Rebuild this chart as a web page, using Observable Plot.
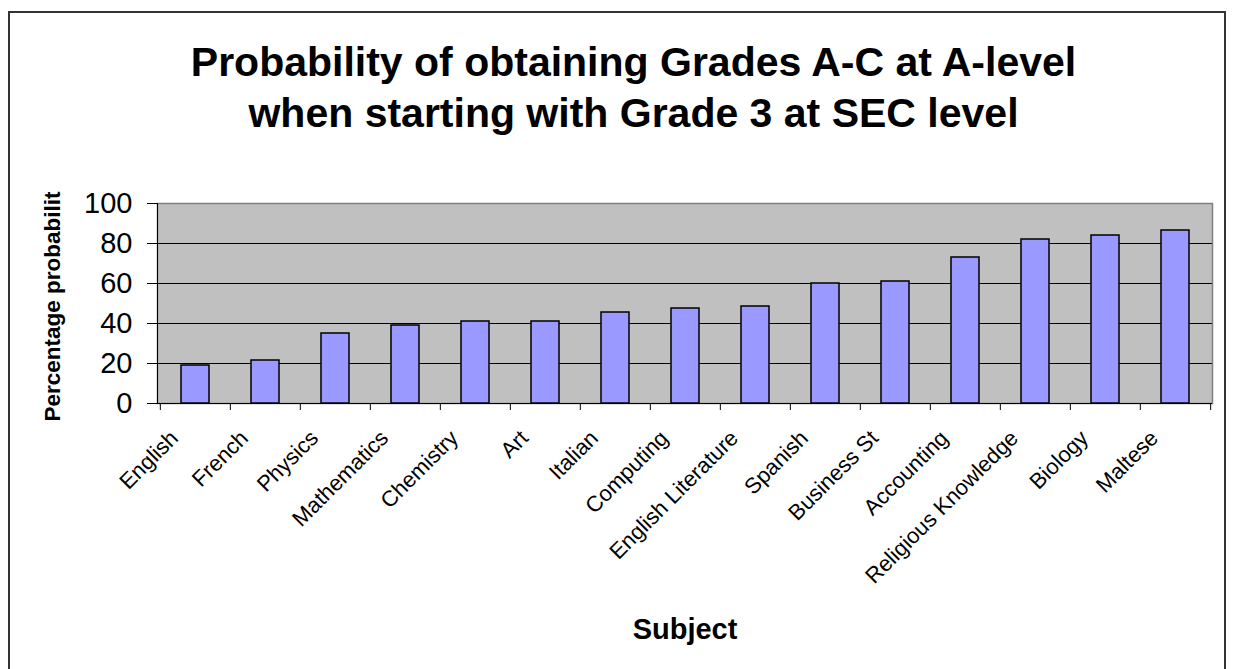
<!DOCTYPE html>
<html>
<head>
<meta charset="utf-8">
<script src="https://cdn.jsdelivr.net/npm/d3@7"></script>
<script src="https://cdn.jsdelivr.net/npm/@observablehq/plot@0.6"></script>
<style>
  html, body { margin: 0; padding: 0; background: #fff; }
  #wrap { position: relative; width: 1234px; height: 669px; overflow: hidden; }
  #border { position: absolute; left: 8px; top: 11px; width: 1218px; height: 700px; border: 2px solid #333; box-sizing: border-box; pointer-events: none; }
  svg { display: block; }
</style>
</head>
<body>
<div id="wrap"><div id="border"></div></div>
<script>
const titleLines = ["Probability of obtaining Grades A-C at A-level", "when starting with Grade 3 at SEC level"];
const yTitle = "Percentage probabilit";
const xTitle = "Subject";
const subjects = ["English","French","Physics","Mathematics","Chemistry","Art","Italian","Computing","English Literature","Spanish","Business St","Accounting","Religious Knowledge","Biology","Maltese"];
const values = [19, 21.5, 35, 39, 41, 41, 45.5, 47.5, 48.5, 60, 61, 73, 82, 84, 86.5];
const yTicks = [0, 20, 40, 60, 80, 100];
const gridValues = [20, 40, 60, 80];

const data = subjects.map((s, i) => ({subject: s, value: values[i]}));

const W = 1234, H = 669;
const mL = 157, mR = 22, mT = 203, mB = 266;
const step = (W - mL - mR) / subjects.length;
const font = "'Liberation Sans', Arial, Helvetica, sans-serif";

const chart = Plot.plot({
  width: W, height: H,
  marginLeft: mL, marginRight: mR, marginTop: mT, marginBottom: mB,
  style: {fontFamily: font, color: "black", background: "white", overflow: "visible"},
  x: {type: "band", domain: subjects, paddingInner: 0.6, paddingOuter: 0.3, axis: null},
  y: {domain: [0, 100], axis: null},
  marks: [
    Plot.frame({fill: "#c0c0c0"}),
    Plot.ruleY(gridValues, {stroke: "black", strokeWidth: 1}),
    Plot.frame({stroke: "#808080", strokeWidth: 1.5}),
    Plot.barY(data, {x: "subject", y: "value", fill: "#9999ff", stroke: "black", strokeWidth: 1.5}),
    Plot.ruleY([0], {stroke: "black", strokeWidth: 1}),
    Plot.frame({anchor: "left", stroke: "black", strokeWidth: 1}),
    Plot.ruleX(subjects, {x: d => d, y1: 0, y2: -3.5, dx: -step / 2, stroke: "black"}),
    Plot.ruleX([subjects[subjects.length - 1]], {x: d => d, y1: 0, y2: -3.5, dx: step / 2, stroke: "black"}),
    Plot.axisY({ticks: yTicks, tickSize: 10, tickPadding: 15, fontSize: 29, label: null, stroke: "black", fill: "black"}),
    Plot.text(subjects, {x: d => d, frameAnchor: "bottom", dx: -21, dy: 31, rotate: -45, textAnchor: "end", lineAnchor: "middle", fontSize: 22, fill: "black"}),
    Plot.text([titleLines[0]], {frameAnchor: "top", dx: -51.5, dy: -141, textAnchor: "middle", lineAnchor: "middle", fontSize: 41, fontWeight: "bold", fill: "black"}),
    Plot.text([titleLines[1]], {frameAnchor: "top", dx: -51.5, dy: -89.5, textAnchor: "middle", lineAnchor: "middle", fontSize: 41, fontWeight: "bold", fill: "black"}),
    Plot.text([yTitle], {frameAnchor: "left", dx: -105, dy: 3, rotate: -90, textAnchor: "middle", lineAnchor: "middle", fontSize: 22.5, fontWeight: "bold", fill: "black"}),
    Plot.text([xTitle], {frameAnchor: "bottom", dx: 0, dy: 226, textAnchor: "middle", lineAnchor: "middle", fontSize: 29, fontWeight: "bold", fill: "black"})
  ]
});
document.getElementById("wrap").prepend(chart);
</script>
</body>
</html>
